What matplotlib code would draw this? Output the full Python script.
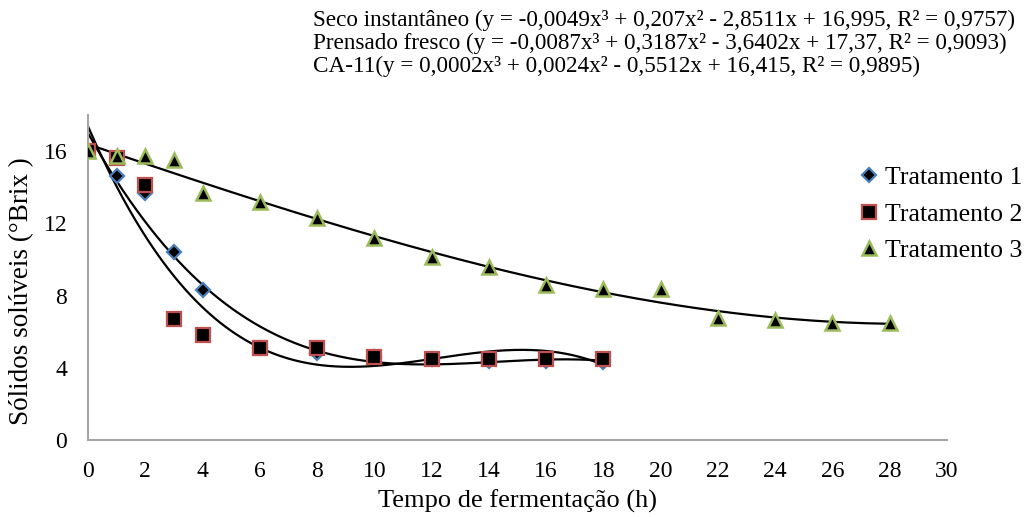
import numpy as np
import matplotlib
matplotlib.use("Agg")
import matplotlib.pyplot as plt

plt.rcParams['font.family'] = ['Liberation Serif', 'DejaVu Serif']

# --- Dados ---
x12 = [0, 1, 2, 3, 4, 6, 8, 10, 12, 14, 16, 18]
t1 = [16.0, 14.6, 13.7, 10.4, 8.3, 5.1, 4.8, 4.6, 4.5, 4.4, 4.4, 4.3]
t2 = [16.0, 15.6, 14.1, 6.7, 5.8, 5.1, 5.1, 4.6, 4.5, 4.5, 4.5, 4.5]
x3 = [0, 1, 2, 3, 4, 6, 8, 10, 12, 14, 16, 18, 20, 22, 24, 26, 28]
t3 = [16.0, 15.75, 15.75, 15.5, 13.7, 13.2, 12.3, 11.2, 10.15, 9.6, 8.6, 8.35, 8.35, 6.75, 6.65, 6.5, 6.5]

labels = ["Tratamento 1", "Tratamento 2", "Tratamento 3"]
eq_lines = [
    "Seco instantâneo (y = -0,0049x³ + 0,207x² - 2,8511x + 16,995, R² = 0,9757)",
    "Prensado fresco (y = -0,0087x³ + 0,3187x² - 3,6402x + 17,37, R² = 0,9093)",
    "CA-11(y = 0,0002x³ + 0,0024x² - 0,5512x + 16,415, R² = 0,9895)",
]

W, H = 1026, 517
fig = plt.figure(figsize=(W / 100, H / 100), dpi=100)
ax = fig.add_axes([88 / W, 1 - 440 / H, (947 - 88) / W, (440 - 115) / H])

# linhas de tendência polinomiais (ordem 3), como no Excel
for xs, ys in [(x12, t1), (x12, t2), (x3, t3)]:
    c = np.polyfit(xs, ys, 3)
    xx = np.linspace(min(xs), max(xs), 300)
    ax.plot(xx, np.polyval(c, xx), color="black", lw=1.6, zorder=2)

ax.plot(x12, t1, ls="none", marker="D", ms=7.5, mfc="black", mec="#4a7ebb", mew=1.6, label=labels[0], zorder=3)
ax.plot(x12, t2, ls="none", marker="s", ms=9.5, mfc="black", mec="#c0504d", mew=1.6, label=labels[1], zorder=3)
ax.plot(x3, t3, ls="none", marker="^", ms=10, mfc="black", mec="#9bbb59", mew=1.8, label=labels[2], zorder=4)

ax.set_xlim(0, 30)
ax.set_ylim(0, 18)
ax.set_xticks(range(0, 31, 2))
ax.set_yticks([0, 4, 8, 12, 16])
ax.tick_params(length=0, labelsize=17, pad=15)
for s in ["top", "right"]:
    ax.spines[s].set_visible(False)
for s in ["left", "bottom"]:
    ax.spines[s].set_color("#a6a6a6")
    ax.spines[s].set_linewidth(1.5)

fig.text(517 / W, 1 - 501 / H, "Tempo de fermentação (h)", fontsize=19, ha="center", va="center")
fig.text(22 / W, 1 - 291 / H, "Sólidos solúveis (°Brix )", fontsize=19.5, ha="center", va="center",
         rotation=90)

fig.legend(loc="upper left", bbox_to_anchor=(854 / W, 1 - 166 / H), frameon=False,
           fontsize=18.5, handletextpad=0.0, labelspacing=0.53, handlelength=1.2,
           borderaxespad=0, borderpad=0)

for i, line in enumerate(eq_lines):
    fig.text(313 / W, 1 - (20 + 23 * i) / H, line, fontsize=16.7, ha="left", va="center")

fig.savefig("out.png", dpi=100)
